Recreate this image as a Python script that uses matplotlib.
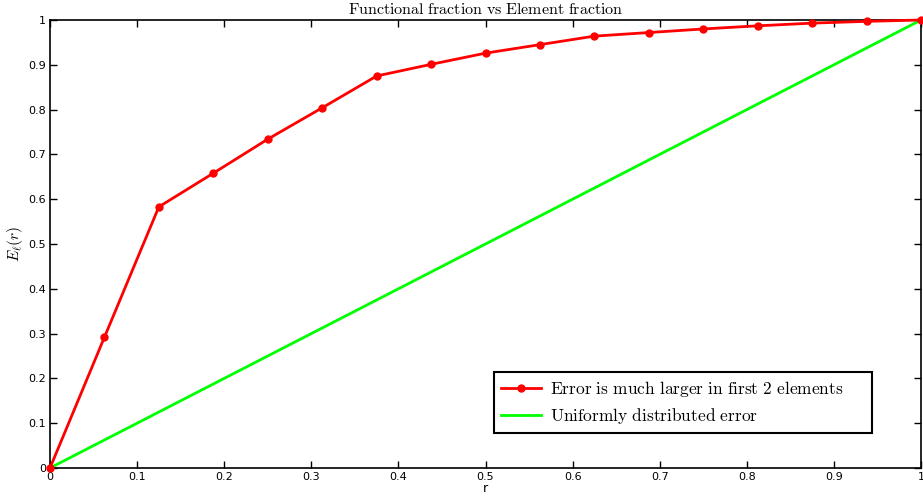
import matplotlib
matplotlib.use("Agg")
import matplotlib.pyplot as plt
import numpy as np

plt.rcParams['mathtext.fontset'] = 'cm'

r_vals = [i / 16 for i in range(17)]
err_frac = [0.0, 0.292, 0.583, 0.658, 0.734, 0.804, 0.875, 0.901, 0.926, 0.945,
            0.964, 0.972, 0.980, 0.987, 0.993, 0.997, 1.0]
uniform_x = [0.0, 1.0]
uniform_y = [0.0, 1.0]

xticks = [0, 0.1, 0.2, 0.3, 0.4, 0.5, 0.6, 0.7, 0.8, 0.9, 1]
xticklabels = ['0', '0.1', '0.2', '0.3', '0.4', '0.5', '0.6', '0.7', '0.8', '0.9', '1']
yticks = xticks
yticklabels = xticklabels

fig = plt.figure(figsize=(9.23, 4.96), dpi=100)
ax = fig.add_axes([50/923, 28/496, 871/923, 448/496])

ax.plot(r_vals, err_frac, color='#ff0000', lw=2, marker='o', ms=5,
        label=r'$\mathrm{Error\ is\ much\ larger\ in\ first\ 2\ elements}$',
        clip_on=False, zorder=3)
ax.plot(uniform_x, uniform_y, color='#00ff00', lw=2,
        label=r'$\mathrm{Uniformly\ distributed\ error}$', clip_on=False, zorder=2)

ax.set_xlim(0, 1)
ax.set_ylim(0, 1)
ax.set_xticks(xticks)
ax.set_xticklabels(xticklabels)
ax.set_yticks(yticks)
ax.set_yticklabels(yticklabels)
ax.tick_params(direction='in', length=5, width=1, labelsize=8, top=True, right=True,
               pad=3, colors='black')
for s in ax.spines.values():
    s.set_linewidth(1.2)

ax.set_title(r'$\mathrm{Functional\ fraction\ vs\ Element\ fraction}$', fontsize=11.5, pad=4)
ax.set_xlabel('r', fontsize=9, labelpad=0)
ax.set_ylabel(r'$E_\ell(r)$', fontsize=11, labelpad=2)

leg = ax.legend(loc='lower left', bbox_to_anchor=(0.5098, 0.078, 0.4339, 0.134),
                mode='expand', borderaxespad=0,
                numpoints=1, fontsize=12.5, fancybox=False, framealpha=1,
                edgecolor='black', handlelength=2.3, handletextpad=0.5,
                borderpad=0.4, labelspacing=0.4)
leg.get_frame().set_linewidth(1.5)

fig.savefig('out.png', dpi=100)
